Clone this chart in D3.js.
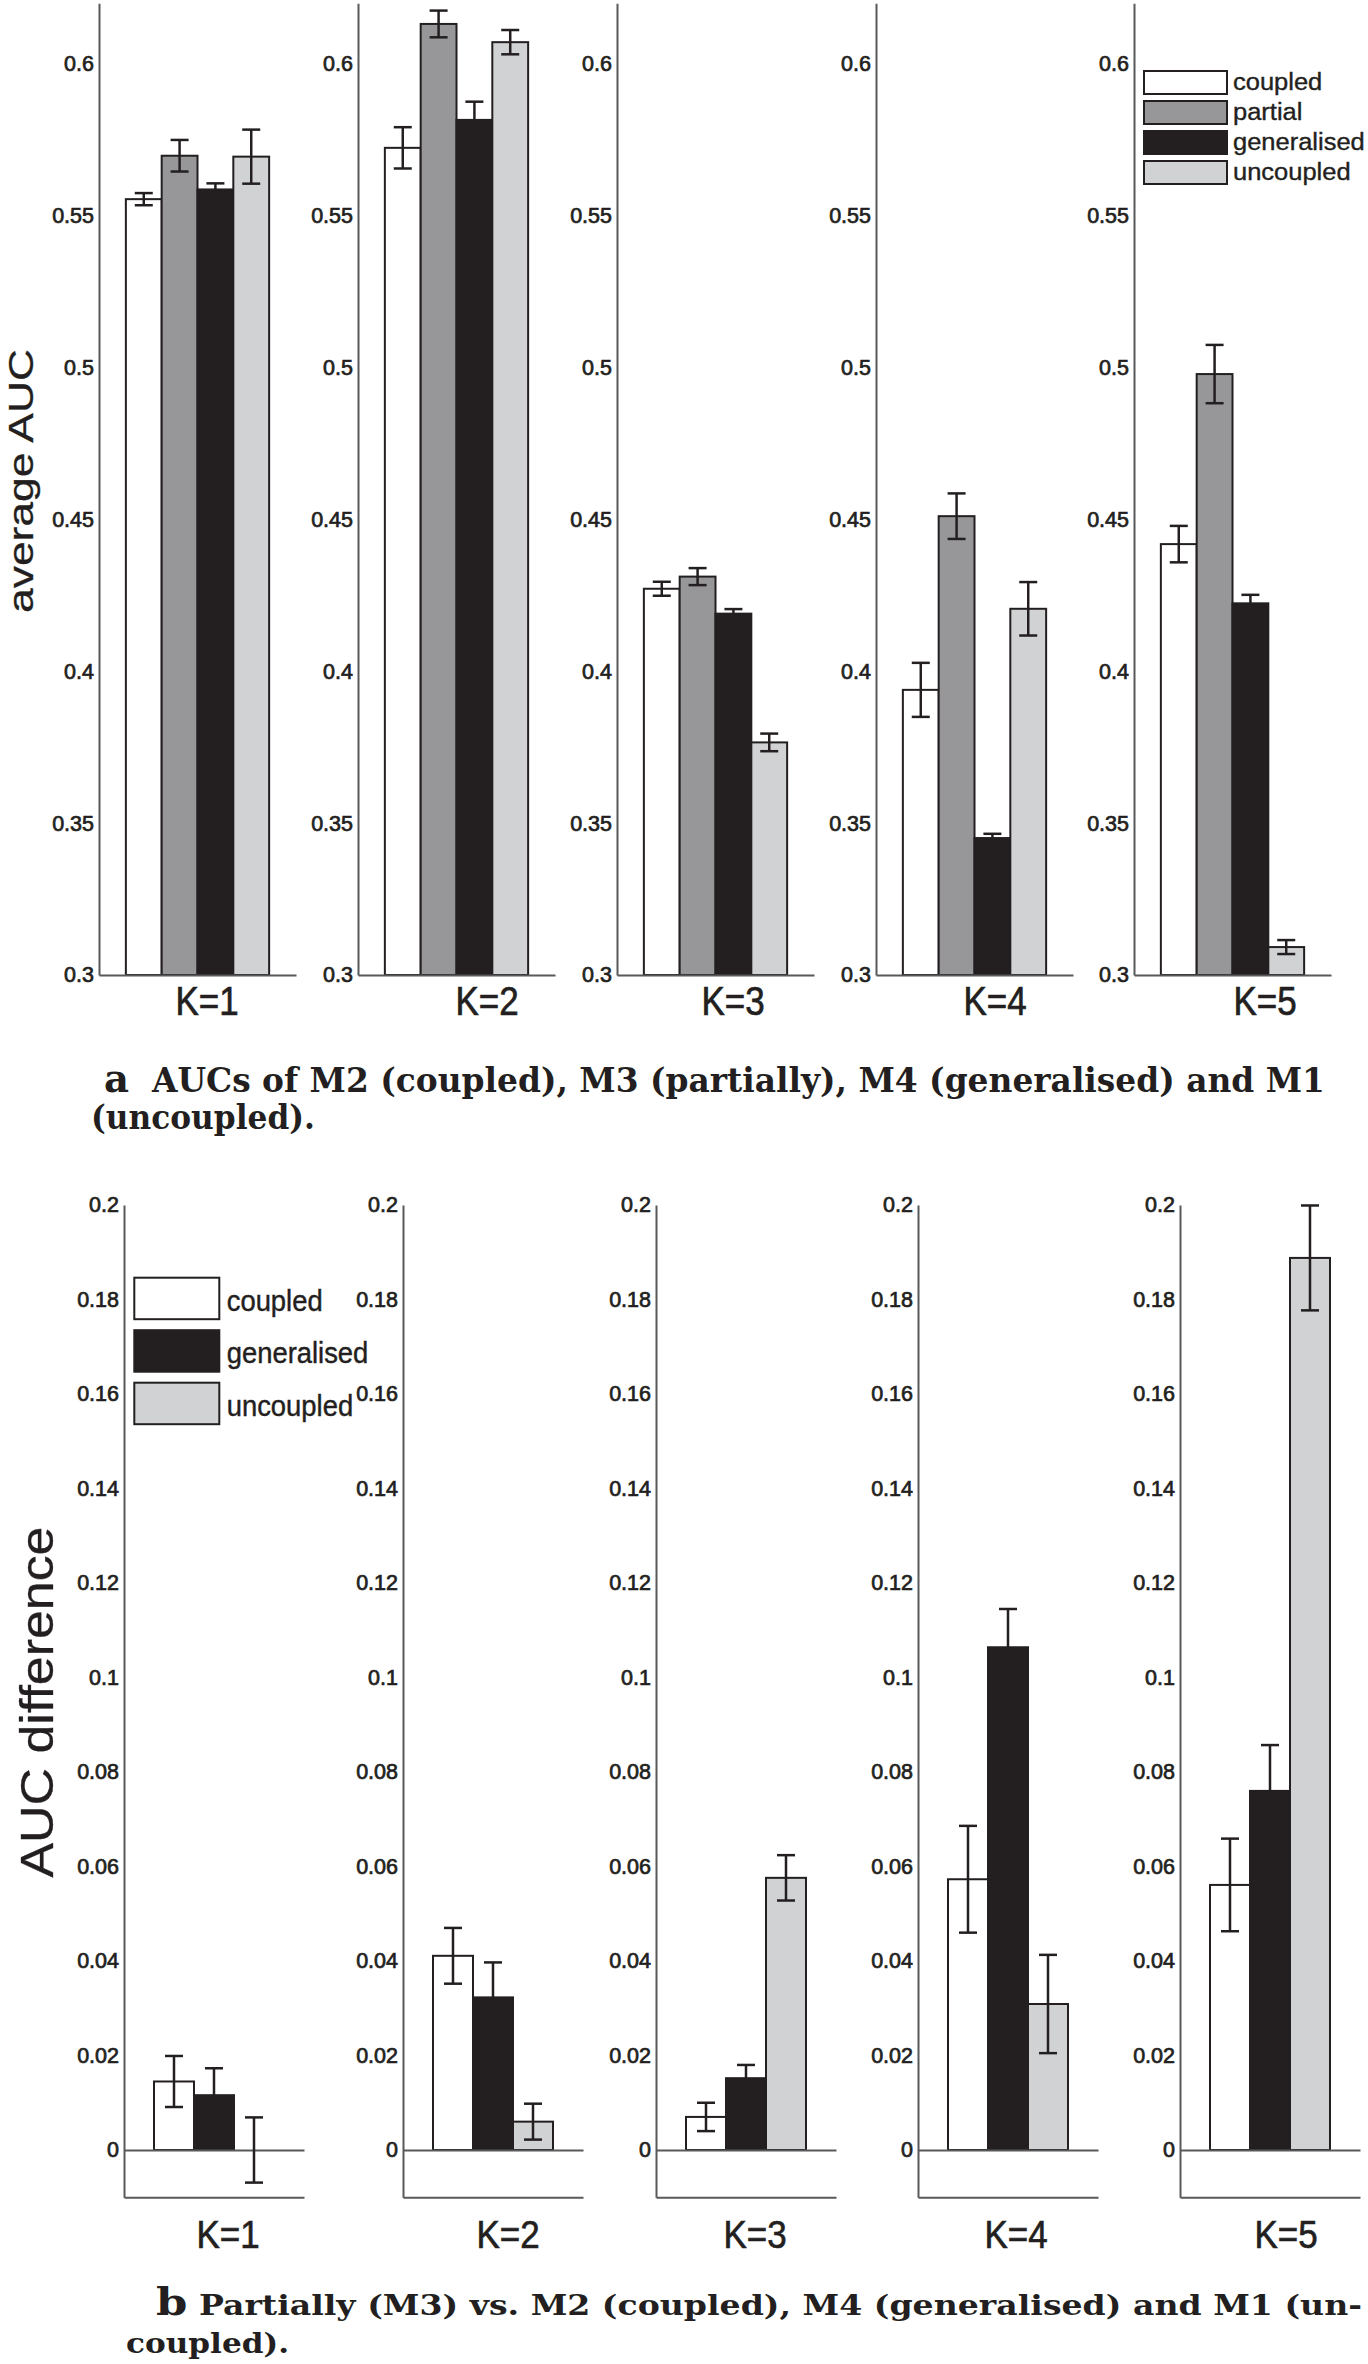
<!DOCTYPE html>
<html>
<head>
<meta charset="utf-8">
<script src="https://cdn.jsdelivr.net/npm/d3@7"></script>
<style>
  html, body { margin: 0; padding: 0; background: #ffffff; }
  svg { display: block; }
</style>
</head>
<body>
<div id="chart"></div>
<script>
// ---------------- data ----------------
const kLabels = ["K=1", "K=2", "K=3", "K=4", "K=5"];

// panel a: average AUC
const seriesA = ["coupled", "partial", "generalised", "uncoupled"];
const aucCoupled     = [0.5555, 0.5724, 0.4272, 0.3939, 0.4419];
const aucPartial     = [0.5698, 0.6132, 0.4312, 0.4511, 0.4979];
const aucGeneralised = [0.5587, 0.5816, 0.4190, 0.3451, 0.4224];
const aucUncoupled   = [0.5695, 0.6072, 0.3766, 0.4206, 0.3092];
const errCoupled     = [0.0020, 0.0068, 0.0023, 0.0089, 0.0060];
const errPartial     = [0.0052, 0.0044, 0.0028, 0.0075, 0.0096];
const errGeneralised = [0.0020, 0.0060, 0.0015, 0.0014, 0.0028];
const errUncoupled   = [0.0089, 0.0040, 0.0029, 0.0088, 0.0023];
const ticksA = [0.3, 0.35, 0.4, 0.45, 0.5, 0.55, 0.6];

// panel b: AUC difference (partially minus others)
const seriesB = ["coupled", "generalised", "uncoupled"];
const diffCoupled        = [0.0145, 0.0411, 0.0070, 0.0573, 0.0561];
const diffGeneralised    = [0.0116, 0.0323, 0.0152, 0.1064, 0.0760];
const diffUncoupled      = [0.0000, 0.0060, 0.0576, 0.0309, 0.1888];
const diffErrCoupled     = [0.0054, 0.0059, 0.0030, 0.0113, 0.0098];
const diffErrGeneralised = [0.0057, 0.0074, 0.0028, 0.0081, 0.0097];
const diffErrUncoupled   = [0.0069, 0.0038, 0.0048, 0.0104, 0.0111];
const ticksB = [0, 0.02, 0.04, 0.06, 0.08, 0.1, 0.12, 0.14, 0.16, 0.18, 0.2];

const captionA1 = ["a", "  AUCs of M2 (coupled), M3 (partially), M4 (generalised) and M1"];
const captionA2 = "(uncoupled).";
const captionB1 = ["b", " Partially (M3) vs. M2 (coupled), M4 (generalised) and M1 (un-"];
const captionB2 = "coupled).";

// ---------------- layout / style ----------------
const W = 1368, H = 2364;
const INK = "#231f20", AXIS = "#58595b";
const fills = { coupled: "#ffffff", partial: "#979799", generalised: "#231f20", uncoupled: "#d1d2d4" };
const SANS = "'Liberation Sans', Arial, Helvetica, sans-serif";
const SERIF = "'DejaVu Serif', 'Liberation Serif', serif";

const layA = { xs: [99, 358, 617, 876, 1134], w: 197, labelX: [207, 487, 733, 995, 1265], labelY: 1015 };
const layB = { xs: [124, 403, 656, 918, 1180], w: 180, labelX: [228, 508, 755, 1016, 1286], labelY: 2248 };

const fmt = d3.format("~g");

const svg = d3.select("#chart").append("svg")
  .attr("width", W).attr("height", H).attr("viewBox", `0 0 ${W} ${H}`);
svg.append("rect").attr("width", W).attr("height", H).attr("fill", "#ffffff");

function styleAxis(g) {
  g.select(".domain").attr("stroke", AXIS).attr("stroke-width", 2);
  g.selectAll(".tick line").remove();
  g.selectAll(".tick text")
    .attr("fill", INK).attr("stroke", INK).attr("stroke-width", 0.7)
    .style("font-family", SANS).style("font-size", "21.5px");
}

function drawPanelSet(opts) {
  const { lay, series, values, errors, y, ticks, baseVal, bottomVal, kScale } = opts;
  lay.xs.forEach((gx, k) => {
    const x = d3.scaleBand().domain(series).range([gx, gx + lay.w]).paddingInner(0).paddingOuter(0.75);
    const g = svg.append("g");
    const rows = series.map((s, i) => ({ s, v: values[i][k], e: errors[i][k] }));

    // bars
    g.selectAll("rect.bar").data(rows).join("rect").attr("class", "bar")
      .attr("x", d => x(d.s))
      .attr("width", x.bandwidth())
      .attr("y", d => Math.min(y(d.v), y(baseVal)))
      .attr("height", d => Math.abs(y(baseVal) - y(d.v)))
      .attr("fill", d => fills[d.s])
      .attr("stroke", INK).attr("stroke-width", 2);

    // zero/base line (bar baseline)
    g.append("g").attr("transform", `translate(0,${y(baseVal)})`)
      .call(d3.axisBottom(x).tickValues([]).tickSizeOuter(0)).call(styleAxis);
    if (bottomVal !== baseVal) {
      g.append("g").attr("transform", `translate(0,${y(bottomVal)})`)
        .call(d3.axisBottom(x).tickValues([]).tickSizeOuter(0)).call(styleAxis);
    }
    // y axis
    g.append("g").attr("transform", `translate(${gx},0)`)
      .call(d3.axisLeft(y).tickValues(ticks).tickSize(0).tickSizeOuter(0).tickPadding(5).tickFormat(fmt))
      .call(styleAxis);

    // error bars
    const cap = 9;
    const eb = g.selectAll("g.err").data(rows).join("g").attr("class", "err")
      .attr("stroke", INK).attr("stroke-width", 2.5);
    eb.append("line")
      .attr("x1", d => x(d.s) + x.bandwidth() / 2).attr("x2", d => x(d.s) + x.bandwidth() / 2)
      .attr("y1", d => y(d.v - d.e)).attr("y2", d => y(d.v + d.e));
    eb.append("line")
      .attr("x1", d => x(d.s) + x.bandwidth() / 2 - cap).attr("x2", d => x(d.s) + x.bandwidth() / 2 + cap)
      .attr("y1", d => y(d.v + d.e)).attr("y2", d => y(d.v + d.e));
    eb.append("line")
      .attr("x1", d => x(d.s) + x.bandwidth() / 2 - cap).attr("x2", d => x(d.s) + x.bandwidth() / 2 + cap)
      .attr("y1", d => y(d.v - d.e)).attr("y2", d => y(d.v - d.e));

    // category label
    g.append("text")
      .attr("transform", `translate(${lay.labelX[k]},${lay.labelY}) scale(1,${kScale})`)
      .attr("text-anchor", "middle")
      .attr("fill", INK).attr("stroke", INK).attr("stroke-width", 0.6)
      .style("font-family", SANS).style("font-size", "35px")
      .text(kLabels[k]);
  });
}

// ---------------- panel a ----------------
const yA = d3.scaleLinear().domain([0.3, 0.62]).range([975, 3.3]);
drawPanelSet({
  lay: layA, series: seriesA,
  values: [aucCoupled, aucPartial, aucGeneralised, aucUncoupled],
  errors: [errCoupled, errPartial, errGeneralised, errUncoupled],
  y: yA, ticks: ticksA, baseVal: 0.3, bottomVal: 0.3, kScale: 1.15
});

// ---------------- panel b ----------------
const yB = d3.scaleLinear().domain([-0.01, 0.2]).range([2197.25, 1205]);
drawPanelSet({
  lay: layB, series: seriesB,
  values: [diffCoupled, diffGeneralised, diffUncoupled],
  errors: [diffErrCoupled, diffErrGeneralised, diffErrUncoupled],
  y: yB, ticks: ticksB, baseVal: 0, bottomVal: -0.01, kScale: 1.12
});

// ---------------- legends ----------------
function legend(series, o) {
  const g = svg.append("g");
  const row = g.selectAll("g").data(series).join("g")
    .attr("transform", (d, i) => `translate(${o.x},${o.y + i * o.step})`);
  row.append("rect").attr("width", o.w).attr("height", o.h)
    .attr("fill", d => fills[d]).attr("stroke", INK).attr("stroke-width", 2);
  row.append("text")
    .attr("transform", `translate(${o.tx},${o.h / 2 + o.dy}) scale(1,${o.sy})`)
    .attr("fill", INK).attr("stroke", INK).attr("stroke-width", 0.4)
    .style("font-family", SANS).style("font-size", o.fs + "px")
    .text(d => d);
}
legend(seriesA, { x: 1144, y: 71, step: 30, w: 83, h: 23, tx: 89, dy: 7, sy: 0.95, fs: 25.5 });
legend(seriesB, { x: 134.3, y: 1277.7, step: 52.5, w: 85, h: 41.5, tx: 92.4, dy: 12.5, sy: 1.1, fs: 27.4 });

// ---------------- y labels ----------------
function yLabel(text, bx, cy, fs, len) {
  svg.append("text")
    .attr("transform", `translate(${bx},${cy}) rotate(-90)`)
    .attr("x", -len / 2).attr("y", 0)
    .attr("textLength", len).attr("lengthAdjust", "spacingAndGlyphs")
    .attr("fill", INK).attr("stroke", INK).attr("stroke-width", 0.3)
    .style("font-family", SANS).style("font-size", fs + "px")
    .text(text);
}
yLabel("average AUC", 33.3, 481, 35, 264);
yLabel("AUC difference", 53.3, 1702, 46, 351);

// ---------------- captions ----------------
function caption(parts, x, y, fs, bigFs, len) {
  const t = svg.append("text").attr("x", x).attr("y", y)
    .attr("textLength", len).attr("lengthAdjust", "spacingAndGlyphs")
    .attr("fill", INK).style("font-family", SERIF).style("font-weight", "bold")
    .style("font-size", fs + "px").attr("xml:space", "preserve").style("white-space", "pre");
  t.append("tspan").style("font-size", bigFs + "px").text(parts[0]);
  t.append("tspan").text(parts[1]);
}
function captionLine(text, x, y, fs, len) {
  svg.append("text").attr("x", x).attr("y", y)
    .attr("textLength", len).attr("lengthAdjust", "spacingAndGlyphs")
    .attr("fill", INK).style("font-family", SERIF).style("font-weight", "bold")
    .style("font-size", fs + "px").text(text);
}
caption(captionA1, 104, 1092, 34, 40, 1221);
captionLine(captionA2, 91, 1129, 34, 224);
caption(captionB1, 156, 2315, 28, 38, 1206);
captionLine(captionB2, 126, 2353, 28, 163);
</script>
</body>
</html>
